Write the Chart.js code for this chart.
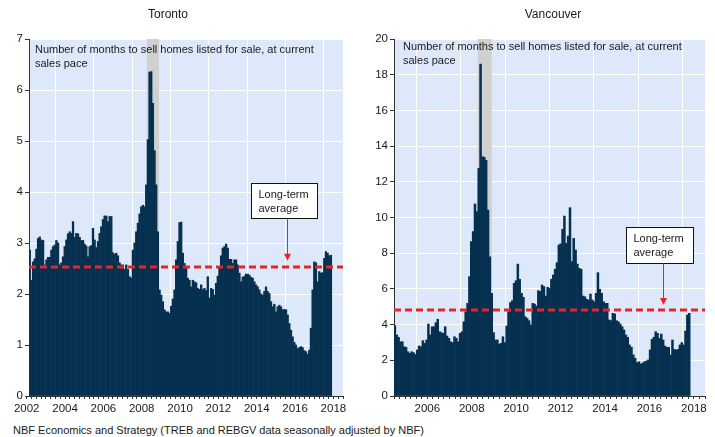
<!DOCTYPE html>
<html>
<head>
<meta charset="utf-8">
<script src="https://cdn.jsdelivr.net/npm/chart.js@4.4.0/dist/chart.umd.min.js"></script>
<style>
body { margin: 0; background: #fff; font-family: "Liberation Sans", Arial, sans-serif; }
#wrap { position: relative; width: 715px; height: 437px; }
canvas { position: absolute; top: 0; }
.title { position: absolute; top: 7px; width: 200px; text-align: center; font-size: 12px; line-height: 14px; color: #1a1a1a; }
#foot { position: absolute; left: 13px; top: 423px; font-size: 11px; line-height: 14px; color: #1a1a1a; white-space: nowrap; }
</style>
</head>
<body>
<div id="wrap">
  <canvas id="tor" width="355" height="420" style="left:0"></canvas>
  <canvas id="van" width="360" height="420" style="left:355px"></canvas>
  <div class="title" style="left:68px">Toronto</div>
  <div class="title" style="left:453px">Vancouver</div>
  <div id="foot">NBF Economics and Strategy (TREB and REBGV data seasonally adjusted by NBF)</div>
</div>
<script>
// months of inventory (first and last bar as decimal years)
const torontoFirst = 2002.66;
const torontoLast = 2018.37;
const torontoMonths = [
  2.86, 2.27, 2.63, 2.69, 2.88, 3.09, 3.12, 3.06, 3.05, 2.57,
  2.67, 2.72, 2.72, 2.86, 2.93, 2.96, 3.05, 3.0, 2.57, 2.61,
  2.73, 2.93, 3.06, 3.18, 3.22, 3.19, 3.42, 3.11, 3.19, 3.18,
  3.11, 3.05, 3.05, 2.98, 2.94, 2.73, 2.93, 2.95, 3.29, 3.06,
  2.91, 3.03, 3.19, 3.32, 3.46, 3.53, 3.53, 3.42, 3.52, 3.52,
  2.81, 2.78, 2.8, 2.75, 2.61, 2.57, 2.57, 2.48, 2.57, 2.48,
  2.34, 2.31,
  2.86, 3.0, 3.22, 3.39, 3.57, 3.71, 3.74, 3.71, 4.14, 5.03,
  6.35, 6.36, 5.74, 4.81, 4.14, 3.22, 2.08, 1.98, 1.85, 1.69,
  1.65, 1.65, 1.62, 1.76, 1.9, 2.08, 2.67, 3.03, 3.4, 3.41,
  2.8, 2.6, 2.54, 2.31, 2.27, 2.14, 2.27, 2.24, 2.22, 2.11,
  2.09, 2.18, 2.09, 2.11, 2.07, 2.34, 1.92, 2.11, 2.09, 1.98,
  2.21, 2.35, 2.54, 2.75, 2.9, 2.93, 2.98, 2.9, 2.68, 2.68,
  2.6, 2.67,
  2.67, 2.57, 2.41, 2.24, 2.33, 2.35, 2.39, 2.39, 2.37, 2.33,
  2.31, 2.24, 2.18, 2.14, 2.08, 2.0, 1.98, 2.05, 2.14, 2.05,
  2.01, 1.85, 1.75, 1.8, 1.65, 1.75, 1.78, 1.75, 1.69, 1.7,
  1.69, 1.59, 1.42, 1.29, 1.16, 1.05, 1.0, 0.93, 0.95, 0.97,
  0.95, 0.89, 0.87, 0.82, 0.9, 1.33, 2.08, 2.63, 2.61, 2.24,
  2.44, 2.41, 2.42, 2.7, 2.83, 2.8, 2.75, 2.76
];
const torontoAverage = 2.53;

const vancouverFirst = 2005.04;
const vancouverLast = 2018.29;
const vancouverMonths = [
  3.94, 3.42, 3.29, 3.04, 3.04, 2.76, 2.73, 2.48, 2.39, 2.48,
  2.43, 2.33, 2.58, 2.8, 2.76, 3.1, 2.95, 3.14, 4.03, 3.42,
  3.88, 3.88, 4.11, 4.3, 3.6, 3.55, 3.51, 3.88, 3.36, 3.23,
  3.04, 2.99, 3.32, 3.23, 3.04, 3.51, 3.6, 4.16, 4.72, 5.19,
  6.69, 8.65, 9.21,
  10.76, 10.33, 12.75, 18.6, 13.41, 13.37, 13.2, 10.42, 7.8, 5.75,
  3.55, 3.14, 3.14, 2.91, 2.95, 3.32, 2.99, 3.92, 4.72, 5.23,
  5.34, 6.31, 6.46, 7.39, 6.54, 5.75, 5.53, 4.44, 4.35, 4.22,
  3.98, 5.19, 5.15, 5.04, 5.9, 5.85, 6.22, 6.13, 5.6, 6.09,
  6.03, 6.54, 6.78, 7.1, 7.47, 8.46, 8.52, 9.34, 10.08, 8.55,
  8.96, 10.55, 7.53, 8.83, 8.18, 7.39, 7.15, 7.1, 5.6, 5.56,
  5.42, 5.38, 5.71, 5.38,
  5.28, 5.75, 6.91, 5.98, 5.75, 5.28, 5.19, 5.19, 4.26, 4.22,
  4.63, 4.6, 4.22, 4.16, 4.03, 3.88, 3.7, 3.42, 3.29, 2.86,
  2.73, 2.3, 2.11, 1.87, 1.92, 1.79, 1.85, 1.92, 1.96, 2.02,
  2.58, 3.17, 3.29, 3.6, 3.51, 3.23, 3.47, 3.14, 2.8, 2.73,
  2.73, 2.3, 3.14, 2.61, 2.58, 2.61, 2.86, 2.99, 2.86, 3.64,
  4.54, 4.63
];
const vancouverAverage = 4.82;

const recession = [2008.77, 2009.4];
const yearLabels = [2002, 2004, 2006, 2008, 2010, 2012, 2014, 2016, 2018];
const noteLines = ['Number of months to sell homes listed for sale, at current', 'sales pace'];
const averageLines = ['Long-term', 'average'];

const barColor = '#06304f';
const redColor = '#e3262c';
const inkColor = '#1a1a1a';
const fontFamily = "'Liberation Sans', Arial, sans-serif";

function toPoints(values, first, last) {
  const step = (last - first) / (values.length - 1);
  return values.map((v, i) => ({ x: first + i * step, y: v }));
}

const decor = {
  id: 'decor',
  beforeDraw(chart) {
    const { ctx, chartArea: a } = chart;
    ctx.save();
    ctx.fillStyle = '#dde9fb';
    ctx.fillRect(a.left, a.top, a.right - a.left, a.bottom - a.top);
    ctx.restore();
  },
  beforeDatasetsDraw(chart) {
    const { ctx, chartArea: a, scales } = chart;
    const x0 = scales.x.getPixelForValue(recession[0]);
    const x1 = scales.x.getPixelForValue(recession[1]);
    ctx.save();
    ctx.fillStyle = '#d0d0d0';
    ctx.fillRect(x0, a.top, x1 - x0, a.bottom - a.top);
    ctx.restore();
  },
  afterDatasetsDraw(chart, args, opts) {
    const { ctx, chartArea: a, scales } = chart;
    ctx.save();
    ctx.fillStyle = inkColor;
    ctx.font = '11px ' + fontFamily;
    ctx.textBaseline = 'middle';
    noteLines.forEach((t, i) => ctx.fillText(t, a.left + opts.noteX, a.top + opts.noteY + i * 13.5));

    // long-term average label
    const bx0 = Math.round(scales.x.getPixelForValue(opts.box[0])) + 0.5;
    const bx1 = Math.round(scales.x.getPixelForValue(opts.box[1])) + 0.5;
    const by0 = Math.round(scales.y.getPixelForValue(opts.box[2])) + 0.5;
    const by1 = Math.round(scales.y.getPixelForValue(opts.box[3])) + 0.5;
    ctx.fillStyle = '#fff';
    ctx.fillRect(bx0, by0, bx1 - bx0, by1 - by0);
    ctx.strokeStyle = '#111';
    ctx.lineWidth = 1;
    ctx.strokeRect(bx0, by0, bx1 - bx0, by1 - by0);
    ctx.fillStyle = inkColor;
    averageLines.forEach((t, i) => ctx.fillText(t, bx0 + 7, by0 + 11 + i * 14));

    // arrow down to the line
    const ax = Math.round(scales.x.getPixelForValue(opts.arrowX)) + 0.5;
    const tip = scales.y.getPixelForValue(opts.arrowTip);
    ctx.strokeStyle = redColor;
    ctx.beginPath();
    ctx.moveTo(ax, by1);
    ctx.lineTo(ax, tip - 5);
    ctx.stroke();
    ctx.fillStyle = redColor;
    ctx.beginPath();
    ctx.moveTo(ax - 3.5, tip - 7);
    ctx.lineTo(ax + 3.5, tip - 7);
    ctx.lineTo(ax, tip);
    ctx.closePath();
    ctx.fill();
    ctx.restore();
  }
};

function makeChart(id, opt) {
  const tickFont = { family: fontFamily, size: 11.5 };
  return new Chart(document.getElementById(id), {
    type: 'bar',
    data: {
      datasets: [
        {
          type: 'bar',
          data: toPoints(opt.values, opt.first, opt.last),
          backgroundColor: barColor,
          borderWidth: 0,
          barPercentage: 1,
          categoryPercentage: 1,
          order: 2
        },
        {
          type: 'line',
          data: [{ x: opt.xMin, y: opt.average }, { x: opt.xMax, y: opt.average }],
          borderColor: redColor,
          borderWidth: 3,
          borderDash: [7, 4],
          pointRadius: 0,
          order: 1
        }
      ]
    },
    options: {
      responsive: false,
      animation: false,
      events: [],
      layout: { padding: { top: 39, right: opt.padRight, bottom: 0, left: 0 } },
      plugins: {
        legend: { display: false },
        tooltip: { enabled: false },
        decor: opt.decor
      },
      scales: {
        x: {
          type: 'linear',
          min: opt.xMin,
          max: opt.xMax,
          offset: false,
          afterBuildTicks(scale) {
            const ticks = [];
            // a year label centred just left of the axis start (Toronto's 2002)
            yearLabels.forEach(y => {
              if (y + 0.5 < opt.xMin && y + 0.5 > opt.xMin - 0.25) ticks.push({ value: y + 0.5 });
            });
            for (let v = Math.ceil(opt.xMin * 4) / 4; v <= opt.xMax + 1e-9; v += 0.25) ticks.push({ value: v });
            scale.ticks = ticks;
          },
          afterFit(scale) { scale.height = 24; },
          ticks: {
            autoSkip: false,
            maxRotation: 0,
            minRotation: 0,
            padding: 3,
            color: inkColor,
            font: tickFont,
            callback: v => yearLabels.includes(v - 0.5) ? String(v - 0.5) : ''
          },
          grid: {
            offset: false,
            lineWidth: 1,
            tickLength: 3,
            color: c => (c.tick && Number.isInteger(c.tick.value) && c.tick.value % 2 === 0) ? '#ffffff' : 'rgba(0,0,0,0)',
            tickColor: '#333'
          },
          border: { color: '#333', width: 1 }
        },
        y: {
          min: 0,
          max: opt.yMax,
          afterFit(scale) { scale.width = opt.yWidth; },
          ticks: { stepSize: opt.yStep, padding: 2, color: inkColor, font: tickFont },
          grid: { color: '#ffffff', lineWidth: 1, tickLength: 4, tickColor: '#333' },
          border: { color: '#333', width: 1 }
        }
      }
    },
    plugins: [decor]
  });
}

makeChart('tor', {
  values: torontoMonths, first: torontoFirst, last: torontoLast, average: torontoAverage,
  xMin: 2002.62, xMax: 2019.0, yMax: 7, yStep: 1, yWidth: 29, padRight: 12,
  decor: { noteX: 6, noteY: 11, box: [2014.2, 2017.64, 4.18, 3.49], arrowX: 2016.08, arrowTip: 2.65 }
});

makeChart('van', {
  values: vancouverMonths, first: vancouverFirst, last: vancouverLast, average: vancouverAverage,
  xMin: 2005.0, xMax: 2019.0, yMax: 20, yStep: 2, yWidth: 39, padRight: 10,
  decor: { noteX: 9, noteY: 8, box: [2015.45, 2018.47, 9.47, 7.45], arrowX: 2017.12, arrowTip: 5.1 }
});
</script>
</body>
</html>
